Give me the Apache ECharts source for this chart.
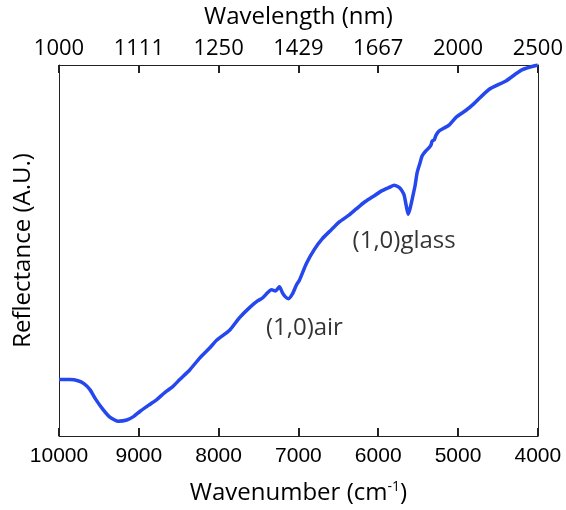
<!DOCTYPE html>
<html>
<head>
<meta charset="utf-8">
<script src="https://cdn.jsdelivr.net/npm/echarts@6/dist/echarts.min.js"></script>
<style>
  html, body { margin: 0; padding: 0; background: #fff; }
  #chart { width: 566px; height: 510px; }
</style>
</head>
<body>
<div id="chart"></div>
<script>
// Reflectance spectrum, wavenumber (cm^-1) vs reflectance (arbitrary units)
const wavenumber = [
  10000, 9862.5, 9762.5, 9687.5, 9612.5, 9537.5, 9450, 9362.5, 9262.5, 9150,
  9062.5, 8987.5, 8862.5, 8775, 8675, 8575, 8487.5, 8362.5, 8237.5, 8112.5,
  8025, 7862.5, 7737.5, 7612.5, 7512.5, 7450, 7387.5, 7337.5, 7287.5, 7237.5,
  7200, 7162.5, 7125, 7075, 7025, 6987.5, 6900, 6800, 6700, 6587.5,
  6487.5, 6362.5, 6275, 6175, 6075, 5962.5, 5862.5, 5800, 5737.5, 5700,
  5675, 5650, 5625, 5600, 5575, 5537.5, 5512.5, 5475, 5450, 5400,
  5362.5, 5337.5, 5325, 5300, 5275, 5237.5, 5175, 5112.5, 5025, 4900,
  4800, 4612.5, 4400, 4200, 4000
];
const reflectance = [
  15.2, 15.2, 14.9, 14.1, 12.5, 9.8, 7.2, 5.1, 4.0, 4.3,
  5.3, 6.6, 8.5, 9.8, 11.7, 13.3, 15.2, 17.8, 21.0, 23.7,
  25.8, 28.5, 31.9, 34.6, 36.4, 37.2, 38.6, 39.4, 39.1, 40.2,
  38.6, 37.5, 37.0, 38.3, 40.7, 42.0, 46.5, 50.3, 53.2, 55.6,
  57.7, 59.6, 61.2, 63.0, 64.4, 66.0, 67.0, 67.6, 67.0, 66.0,
  64.9, 62.2, 59.8, 61.4, 63.8, 67.6, 71.0, 73.7, 75.5, 76.9,
  77.7, 78.5, 79.5, 79.8, 81.1, 82.2, 83.0, 83.8, 85.9, 87.8,
  89.6, 93.4, 95.7, 98.7, 100
];

// Bottom axis ticks (wavenumber) and matching top-axis wavelength labels
const wavenumberTicks = [10000, 9000, 8000, 7000, 6000, 5000, 4000];
const wavelengthLabels = ['1000', '1111', '1250', '1429', '1667', '2000', '2500'];

// Mode annotations
const annotationText = ['(1,0)air', '(1,0)glass'];
const annotationWavenumber = [6925, 5675];
const annotationReflectance = [29, 52.4];

const lineColor = '#2547ee';
const axisColor = '#222';
const textColor = '#000';
const textFont = '"Open Sans", "Noto Sans", sans-serif';

const chart = echarts.init(document.getElementById('chart'));

const frameLine = () => ({ show: true, onZero: false, lineStyle: { color: axisColor, width: 1 } });
const frameTick = () => ({ show: true, inside: true, length: 8, lineStyle: { color: axisColor, width: 2 } });

chart.setOption({
  animation: false,
  grid: { left: 59, right: 27, top: 61, bottom: 73 },
  xAxis: [
    {
      type: 'value', min: 4000, max: 10000, interval: 1000, inverse: true,
      position: 'bottom',
      splitLine: { show: false },
      axisLine: frameLine(),
      axisTick: frameTick(),
      name: 'Wavenumber (cm{sup|-1})',
      nameLocation: 'middle',
      nameGap: 44,
      nameTextStyle: {
        fontFamily: textFont, fontSize: 24, color: textColor,
        rich: { sup: { fontFamily: textFont, fontSize: 14, color: textColor, verticalAlign: 'top', padding: [0, 0, 12, 0] } }
      },
      axisLabel: {
        margin: 10,
        fontFamily: '"Liberation Sans", Arial, sans-serif',
        fontSize: 21,
        color: textColor,
        formatter: v => String(v)
      }
    },
    {
      type: 'value', min: 4000, max: 10000, interval: 1000, inverse: true,
      position: 'top',
      splitLine: { show: false },
      axisLine: frameLine(),
      axisTick: frameTick(),
      name: 'Wavelength (nm)',
      nameLocation: 'middle',
      nameGap: 36,
      nameTextStyle: { fontFamily: textFont, fontSize: 24, color: textColor },
      axisLabel: {
        margin: 5,
        fontFamily: textFont,
        fontSize: 22,
        color: textColor,
        formatter: function (v) {
          const i = wavenumberTicks.indexOf(v);
          return i >= 0 ? wavelengthLabels[i] : '';
        }
      }
    }
  ],
  yAxis: [
    {
      type: 'value', min: 0, max: 100, position: 'left',
      name: 'Reflectance (A.U.)',
      nameLocation: 'middle',
      nameGap: 24,
      nameTextStyle: { fontFamily: textFont, fontSize: 24, color: textColor },
      axisLine: frameLine(),
      axisTick: { show: false },
      axisLabel: { show: false },
      splitLine: { show: false }
    },
    {
      // right-hand frame edge
      type: 'value', min: 0, max: 100, position: 'right',
      axisLine: frameLine(),
      axisTick: { show: false },
      axisLabel: { show: false },
      splitLine: { show: false }
    }
  ],
  series: [
    {
      type: 'line',
      xAxisIndex: 0,
      yAxisIndex: 0,
      data: wavenumber.map((w, i) => [w, reflectance[i]]),
      showSymbol: false,
      smooth: 0.2,
      lineStyle: { color: lineColor, width: 3.5 },
      z: 3
    },
    {
      type: 'scatter',
      xAxisIndex: 0,
      yAxisIndex: 0,
      symbolSize: 0,
      data: annotationText.map((t, i) => ({ value: [annotationWavenumber[i], annotationReflectance[i]], name: t })),
      label: {
        show: true,
        position: 'inside',
        formatter: p => p.name,
        fontFamily: textFont,
        fontSize: 24,
        color: textColor
      },
      silent: true
    }
  ]
});
</script>
</body>
</html>
